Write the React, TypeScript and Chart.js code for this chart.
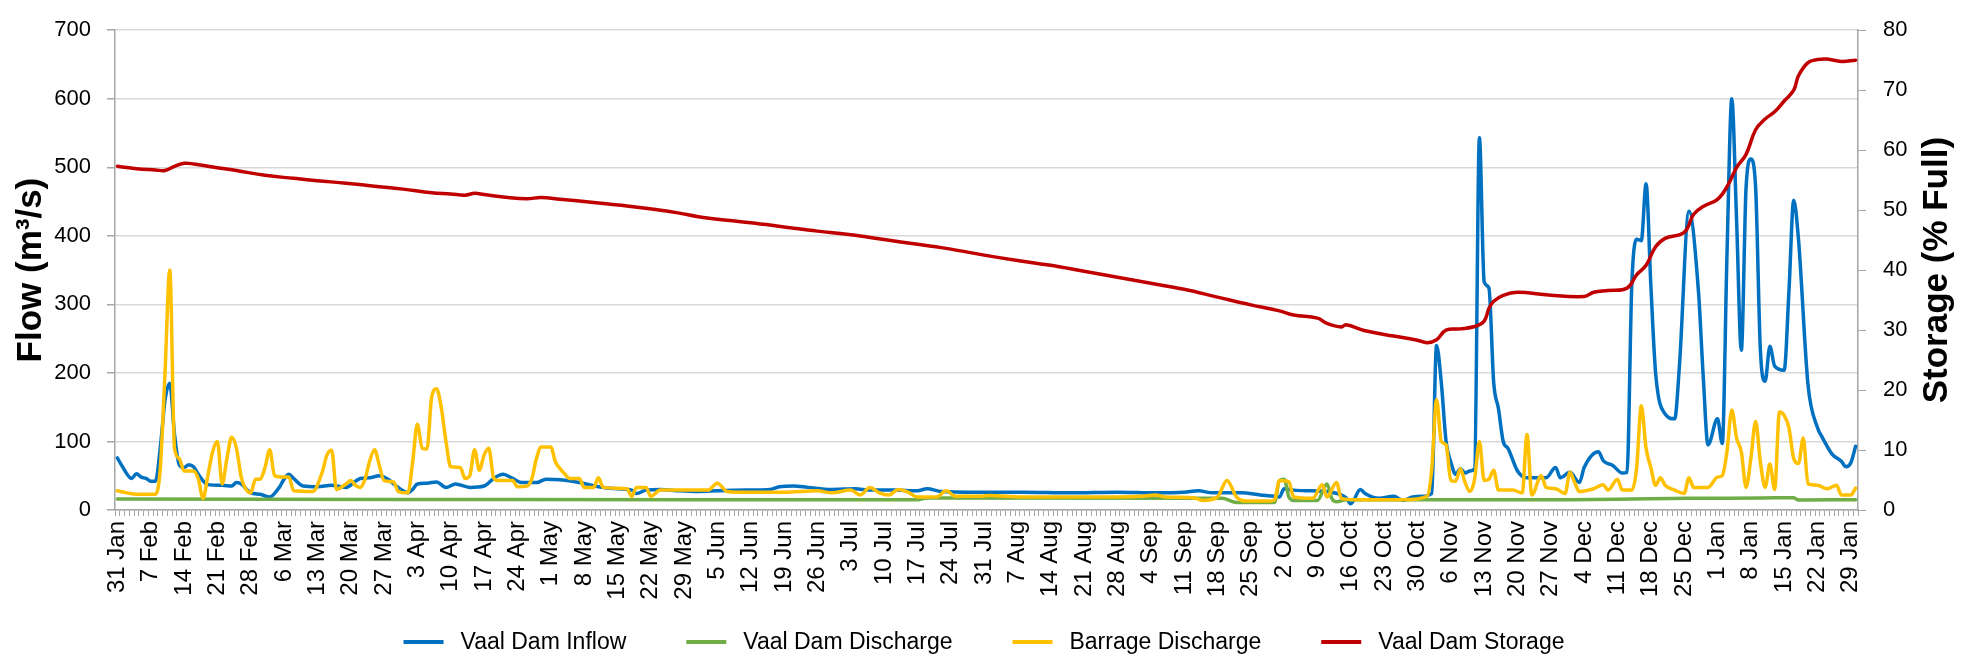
import React, { useEffect, useRef } from "react";
import { Chart, registerables } from "chart.js";

Chart.register(...registerables);

const FONT = '"Liberation Sans", Arial, sans-serif';

const monthNames = ["Jan", "Feb", "Mar", "Apr", "May", "Jun", "Jul", "Aug", "Sep", "Oct", "Nov", "Dec"];
const startUTC = Date.UTC(2016, 0, 31);
const dayCount = 366;
const dayLabels: string[] = Array.from({ length: dayCount }, (_, d) => {
  const dt = new Date(startUTC + d * 86400000);
  return `${dt.getUTCDate()} ${monthNames[dt.getUTCMonth()]}`;
});

const tickLabels = [
  "31 Jan", "7 Feb", "14 Feb", "21 Feb", "28 Feb", "6 Mar", "13 Mar", "20 Mar", "27 Mar", "3 Apr",
  "10 Apr", "17 Apr", "24 Apr", "1 May", "8 May", "15 May", "22 May", "29 May", "5 Jun", "12 Jun",
  "19 Jun", "26 Jun", "3 Jul", "10 Jul", "17 Jul", "24 Jul", "31 Jul", "7 Aug", "14 Aug", "21 Aug",
  "28 Aug", "4 Sep", "11 Sep", "18 Sep", "25 Sep", "2 Oct", "9 Oct", "16 Oct", "23 Oct", "30 Oct",
  "6 Nov", "13 Nov", "20 Nov", "27 Nov", "4 Dec", "11 Dec", "18 Dec", "25 Dec", "1 Jan", "8 Jan",
  "15 Jan", "22 Jan", "29 Jan",
];

// [day index from 31 Jan, flow m3/s]
const inflowPoints: [number, number][] = [
  [0, 76], [1, 64], [3, 46], [4, 53], [5, 48], [6, 46], [7, 42], [8, 42], [9, 90], [10, 160], [11, 185],
  [12, 110], [13, 66], [14, 62], [15, 66], [16, 63], [17, 52], [19, 37], [22, 36], [24, 35], [25, 40],
  [26, 38], [28, 25], [30, 23], [32, 19], [34, 33], [35, 45], [36, 52], [37, 46], [39, 35], [42, 34],
  [45, 36], [47, 34], [48, 33], [50, 42], [51, 46], [53, 47], [55, 50], [57, 44], [58, 38], [60, 28],
  [61, 25], [62, 30], [63, 38], [65, 39], [67, 41], [69, 33], [71, 38], [74, 33], [77, 35], [79, 46],
  [81, 52], [83, 46], [85, 40], [88, 40], [90, 45], [93, 44], [97, 40], [101, 34], [105, 31], [108, 29],
  [109, 24], [111, 29], [114, 30], [118, 28], [122, 27], [126, 28], [132, 29], [137, 30], [139, 34],
  [142, 35], [145, 33], [150, 30], [155, 31], [158, 29], [163, 29], [168, 28], [170, 31], [173, 27],
  [180, 26], [190, 26], [200, 25], [210, 26], [218, 25], [224, 26], [227, 28], [230, 25], [236, 25],
  [240, 22], [243, 20], [244, 19], [245, 31], [247, 29], [251, 28], [254, 27], [257, 22], [258, 18],
  [259, 9], [261, 30], [262, 24], [265, 17], [268, 20], [270, 14], [272, 19], [274, 20], [276, 24],
  [277, 240], [278, 186], [279, 100], [280, 70], [281, 52], [282, 60], [283, 54], [284, 57], [285, 60],
  [286, 543], [287, 333], [288, 324], [289, 186], [290, 148], [291, 100], [292, 90], [294, 57], [296, 47],
  [300, 47], [302, 62], [303, 47], [305, 55], [307, 40], [308, 62], [311, 85], [312, 72], [314, 65],
  [316, 54], [317, 55], [318, 328], [319, 395], [320, 393], [321, 476], [322, 328], [323, 200], [325, 140],
  [327, 133], [328, 210], [330, 436], [332, 319], [333, 195], [334, 95], [336, 133], [337, 97], [338, 376],
  [339, 600], [340, 424], [341, 233], [342, 471], [343, 512], [344, 471], [345, 233], [346, 188], [347, 239],
  [348, 210], [350, 204], [351, 319], [352, 452], [353, 395], [355, 183], [357, 120], [358, 106], [360, 82],
  [362, 71], [363, 63], [364, 69], [365, 93],
];

const dischargePoints: [number, number][] = [
  [0, 16], [60, 15.5], [120, 15], [168, 15], [170, 17.5], [232, 17], [235, 11], [243, 11], [244, 43],
  [245, 45], [246, 19], [247, 14], [252, 14], [254, 38], [255, 17], [256, 12], [258, 15], [300, 15],
  [330, 17], [345, 17.5], [352, 18], [353, 14.5], [365, 15],
];

const barragePoints: [number, number][] = [
  [0, 28], [2, 25], [4, 23], [8, 23], [9, 60], [10, 200], [11, 350], [12, 90], [13, 75], [14, 57],
  [16, 57], [17, 45], [18, 17], [19, 50], [20, 85], [21, 100], [22, 38], [23, 75], [24, 106], [25, 90],
  [26, 48], [27, 30], [28, 25], [29, 45], [30, 45], [31, 62], [32, 88], [33, 50], [35, 48], [36, 48],
  [37, 28], [41, 27], [43, 55], [44, 80], [45, 87], [46, 30], [48, 38], [49, 43], [50, 36], [51, 33],
  [52, 45], [53, 72], [54, 88], [55, 65], [56, 43], [58, 41], [59, 27], [61, 25], [62, 70], [63, 125],
  [64, 90], [65, 89], [66, 165], [67, 177], [68, 150], [69, 100], [70, 63], [72, 62], [73, 46], [74, 50],
  [75, 88], [76, 58], [77, 80], [78, 90], [79, 47], [80, 43], [83, 43], [84, 34], [86, 35], [87, 45],
  [88, 75], [89, 92], [91, 92], [92, 70], [93, 60], [94, 52], [95, 46], [97, 46], [98, 33], [100, 33],
  [101, 47], [102, 33], [107, 31], [108, 20], [109, 33], [111, 33], [112, 20], [114, 29], [118, 29],
  [124, 29], [126, 39], [128, 27], [130, 26], [140, 26], [147, 28], [150, 25], [154, 29], [156, 22],
  [158, 33], [160, 25], [162, 22], [164, 30], [166, 26], [168, 19], [172, 19], [174, 28], [176, 20],
  [181, 20], [183, 21], [190, 19], [200, 19], [210, 19], [215, 20], [218, 22], [220, 19], [226, 18],
  [228, 14], [231, 19], [233, 43], [235, 19], [237, 13], [242, 13], [243, 15], [244, 43], [246, 41],
  [247, 19], [251, 17], [253, 37], [254, 19], [256, 40], [257, 17], [260, 15], [270, 15], [275, 20],
  [276, 60], [277, 161], [278, 100], [279, 95], [280, 43], [281, 42], [282, 60], [283, 40], [284, 27],
  [285, 45], [286, 100], [287, 43], [288, 45], [289, 58], [290, 29], [293, 29], [295, 25], [296, 110],
  [297, 22], [299, 50], [300, 33], [302, 31], [304, 24], [305, 55], [306, 40], [307, 27], [310, 31],
  [312, 37], [313, 29], [315, 45], [316, 29], [318, 29], [319, 60], [320, 152], [321, 90], [322, 62],
  [323, 36], [324, 47], [325, 36], [327, 29], [329, 24], [330, 47], [331, 33], [334, 33], [336, 48],
  [337, 50], [338, 86], [339, 146], [340, 105], [341, 85], [342, 33], [343, 75], [344, 129], [345, 70],
  [346, 33], [347, 67], [348, 30], [349, 143], [350, 138], [351, 120], [352, 75], [353, 68], [354, 105],
  [355, 38], [357, 36], [359, 31], [361, 36], [362, 22], [364, 22], [365, 32],
];

// [day index, storage % full]
const storagePoints: [number, number][] = [
  [0, 57.3], [4, 56.9], [8, 56.7], [10, 56.6], [12, 57.3], [14, 57.8], [16, 57.7], [20, 57.2], [25, 56.6],
  [31, 55.8], [37, 55.3], [42, 54.9], [48, 54.5], [54, 54.0], [60, 53.5], [66, 52.9], [70, 52.7],
  [73, 52.5], [75, 52.8], [77, 52.6], [82, 52.1], [86, 51.9], [89, 52.1], [93, 51.8], [101, 51.2],
  [107, 50.7], [113, 50.1], [118, 49.5], [122, 48.9], [128, 48.3], [133, 47.9], [140, 47.2], [147, 46.5],
  [154, 45.9], [161, 45.1], [168, 44.3], [175, 43.5], [182, 42.5], [189, 41.6], [196, 40.8], [203, 39.8],
  [210, 38.8], [217, 37.8], [224, 36.8], [231, 35.5], [238, 34.2], [244, 33.2], [247, 32.5], [252, 32.0],
  [254, 31.1], [257, 30.5], [258, 30.9], [262, 29.9], [268, 29.0], [273, 28.3], [275, 27.9], [277, 28.4],
  [279, 30.0], [282, 30.2], [285, 30.6], [287, 31.5], [288, 33.6], [289, 34.8], [291, 35.8], [294, 36.3],
  [300, 35.9], [308, 35.6], [310, 36.3], [313, 36.6], [317, 37.0], [319, 39.2], [321, 40.8], [323, 43.9],
  [325, 45.3], [329, 46.3], [331, 49.3], [333, 50.6], [336, 51.8], [338, 53.9], [340, 57.1], [342, 59.3],
  [344, 63.4], [346, 65.2], [348, 66.4], [350, 68.2], [352, 70.0], [353, 72.4], [355, 74.6], [357, 75.1],
  [359, 75.2], [362, 74.8], [365, 75.0],
];

const seriesNames = ["Vaal Dam Inflow", "Vaal Dam Discharge", "Barrage Discharge", "Vaal Dam Storage"];
const seriesColors = ["#0070C0", "#70AD47", "#FFC000", "#C00000"];
const leftTitle = "Flow (m³/s)";
const rightTitle = "Storage (% Full)";

const TITLE_SIZE = 35;

const toData = (pts: [number, number][]) => pts.map(([d, v]) => ({ x: dayLabels[d], y: v }));

const rightTitlePlugin = {
  id: "rightTitle",
  afterDraw(chart: any) {
    const ctx = chart.ctx;
    ctx.save();
    ctx.font = `bold ${TITLE_SIZE}px ${FONT}`;
    ctx.fillStyle = "#000";
    ctx.textAlign = "center";
    ctx.textBaseline = "middle";
    ctx.translate(chart.width - 31, (chart.chartArea.top + chart.chartArea.bottom) / 2);
    ctx.rotate(-Math.PI / 2);
    ctx.fillText(rightTitle, 0, 0);
    ctx.restore();
  },
};

const legendPlugin = {
  id: "bottomLegend",
  afterDraw(chart: any) {
    const ctx = chart.ctx;
    const lineLen = 40;
    const lineGap = 17;
    const itemGap = 60;
    ctx.save();
    ctx.font = `23px ${FONT}`;
    const widths = seriesNames.map((n) => ctx.measureText(n).width);
    const total = widths.reduce((a, w) => a + lineLen + lineGap + w, 0) + itemGap * (seriesNames.length - 1);
    let x = (chart.width - total) / 2;
    const y = chart.height - 15;
    ctx.textBaseline = "middle";
    ctx.textAlign = "left";
    seriesNames.forEach((n, i) => {
      ctx.strokeStyle = seriesColors[i];
      ctx.lineWidth = 4;
      ctx.beginPath();
      ctx.moveTo(x, y);
      ctx.lineTo(x + lineLen, y);
      ctx.stroke();
      ctx.fillStyle = "#000";
      ctx.fillText(n, x + lineLen + lineGap, y + 1);
      x += lineLen + lineGap + widths[i] + itemGap;
    });
    ctx.restore();
  },
};

export default function App() {
  const ref = useRef<HTMLCanvasElement | null>(null);
  useEffect(() => {
    document.body.style.margin = "0";
    if (!ref.current) return;
    const mk = (i: number, pts: [number, number][], axis: string, order: number, mono: boolean) => ({
      label: seriesNames[i],
      data: toData(pts),
      borderColor: seriesColors[i],
      backgroundColor: seriesColors[i],
      borderWidth: 3.5,
      pointRadius: 0,
      pointHoverRadius: 0,
      yAxisID: axis,
      order,
      tension: mono ? 0 : 0.4,
      cubicInterpolationMode: mono ? "monotone" : "default",
      borderJoinStyle: "round",
      borderCapStyle: "round",
    });
    const chart = new Chart(ref.current, {
      type: "line",
      data: {
        labels: dayLabels,
        datasets: [
          mk(0, inflowPoints, "y", 4, true),
          mk(1, dischargePoints, "y", 3, true),
          mk(2, barragePoints, "y", 2, true),
          mk(3, storagePoints, "y1", 1, false),
        ] as any,
      },
      options: {
        animation: false,
        responsive: false,
        devicePixelRatio: 1,
        layout: { padding: { top: 20, left: 0, right: 0, bottom: 47 } },
        plugins: {
          tooltip: { enabled: false },
          legend: { display: false },
        },
        scales: {
          x: {
            type: "category",
            offset: true,
            grid: { offset: true, drawOnChartArea: false, tickLength: 6, color: "#a6a6a6", lineWidth: 1 },
            border: { color: "#a6a6a6", width: 1.5 },
            ticks: {
              autoSkip: false,
              maxRotation: 90,
              minRotation: 90,
              padding: 5,
              color: "#000",
              font: { family: FONT, size: 24 },
              callback: (_v: any, i: number) => (i % 7 === 0 ? tickLabels[i / 7] : ""),
            },
            afterFit: (s: any) => {
              s.height = 100;
            },
          },
          y: {
            position: "left",
            min: 0,
            max: 700,
            ticks: { stepSize: 100, padding: 16, color: "#000", font: { family: FONT, size: 22 } },
            grid: { color: "#d9d9d9", lineWidth: 1.5, tickLength: 8, tickColor: "#a6a6a6" },
            border: { color: "#a6a6a6", width: 1.5 },
            title: {
              display: true,
              text: leftTitle,
              color: "#000",
              font: { family: FONT, size: TITLE_SIZE, weight: "bold" },
              padding: { top: 10, bottom: 0 },
            },
            afterFit: (s: any) => {
              s.width = 115;
            },
          },
          y1: {
            position: "right",
            min: 0,
            max: 80,
            ticks: { stepSize: 10, padding: 17, color: "#000", font: { family: FONT, size: 22 } },
            grid: { drawOnChartArea: false, tickLength: 8, color: "#a6a6a6" },
            border: { color: "#a6a6a6", width: 1.5 },
            afterFit: (s: any) => {
              s.width = 110;
            },
          },
        },
      } as any,
      plugins: [rightTitlePlugin, legendPlugin],
    });
    return () => chart.destroy();
  }, []);
  return (
    <div style={{ width: 1968, height: 657 }}>
      <canvas ref={ref} width={1968} height={657} style={{ width: 1968, height: 657, display: "block" }} />
    </div>
  );
}
